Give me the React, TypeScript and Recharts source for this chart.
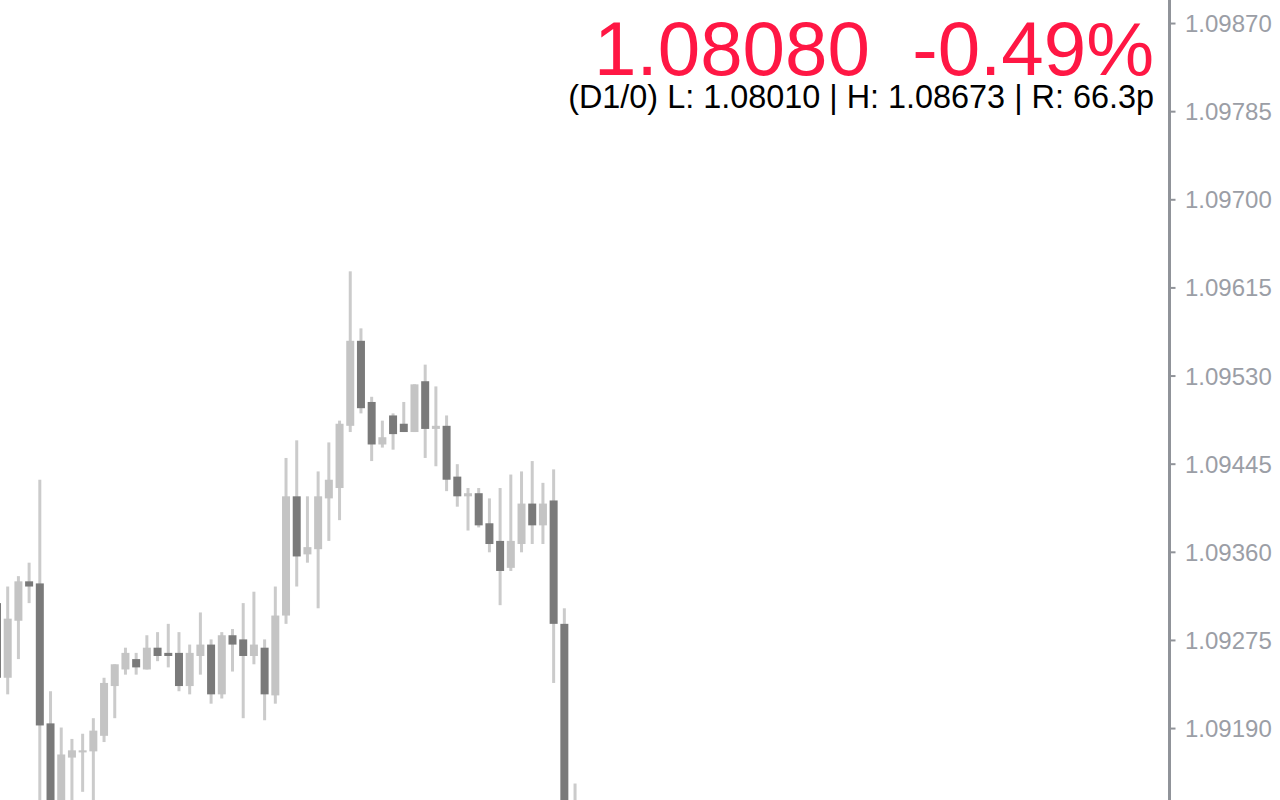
import React from 'react';
import { ComposedChart, Bar, XAxis, YAxis } from 'recharts';

// daily EURUSD candles, oldest first (first one is cut by the left edge)
const opens = [
  1.09311, 1.09239, 1.09294, 1.09332, 1.0933, 1.09195, 1.0911, 1.09162, 1.09167, 1.09168,
  1.09183, 1.09231, 1.09247, 1.09257, 1.09247, 1.09268, 1.09263, 1.09263, 1.09231, 1.0926,
  1.09271, 1.09223, 1.0928, 1.09276, 1.0926, 1.09268, 1.09222, 1.09299, 1.09414, 1.09358,
  1.09363, 1.09412, 1.09422, 1.09482, 1.09564, 1.09505, 1.09464, 1.09492, 1.09484, 1.09476,
  1.09525, 1.09479, 1.09482, 1.09433, 1.09414, 1.09417, 1.09388, 1.09371, 1.09345, 1.09368,
  1.09407, 1.09386, 1.0941, 1.09291, 1.0888, 1.08612,
];
const highs = [
  1.09324, 1.09327, 1.09337, 1.0935, 1.0943, 1.09226, 1.09191, 1.0918, 1.09185, 1.092,
  1.09239, 1.09252, 1.09268, 1.09263, 1.0928, 1.09283, 1.09291, 1.09283, 1.09271, 1.09302,
  1.09276, 1.09283, 1.09286, 1.09311, 1.09322, 1.09276, 1.09327, 1.09451, 1.09468, 1.09414,
  1.09438, 1.09466, 1.09487, 1.09631, 1.09576, 1.0951, 1.09487, 1.09494, 1.09505, 1.09522,
  1.09541, 1.0952, 1.09492, 1.09445, 1.09422, 1.09422, 1.09412, 1.09422, 1.09435, 1.09438,
  1.09448, 1.09427, 1.0944, 1.09306, 1.09137, 1.08673,
];
const lows = [
  1.09227, 1.09223, 1.09257, 1.09311, 1.091, 1.09095, 1.091, 1.0911, 1.09129, 1.09115,
  1.09177, 1.092, 1.09242, 1.09242, 1.09247, 1.09255, 1.09249, 1.09226, 1.09223, 1.09242,
  1.09214, 1.09219, 1.09245, 1.092, 1.09252, 1.09198, 1.09214, 1.09291, 1.09327, 1.0935,
  1.09306, 1.09371, 1.09391, 1.09476, 1.09494, 1.09448, 1.09461, 1.09459, 1.09476, 1.09476,
  1.09451, 1.09443, 1.09419, 1.09404, 1.09381, 1.09384, 1.0936, 1.09309, 1.09342, 1.0936,
  1.09368, 1.09368, 1.09234, 1.0885, 1.0856, 1.0801,
];
const closes = [
  1.09239, 1.09296, 1.09332, 1.09327, 1.09193, 1.09108, 1.09165, 1.09169, 1.09169, 1.09188,
  1.09234, 1.09252, 1.09263, 1.09249, 1.09268, 1.0926, 1.0926, 1.09231, 1.09263, 1.09271,
  1.09223, 1.0928, 1.09271, 1.0926, 1.09271, 1.09223, 1.09299, 1.09414, 1.09356, 1.09365,
  1.09414, 1.0943, 1.09484, 1.09564, 1.09499, 1.09464, 1.09471, 1.09474, 1.09476, 1.09522,
  1.09479, 1.09482, 1.0943, 1.09414, 1.09417, 1.09386, 1.09368, 1.09342, 1.09371, 1.09407,
  1.09386, 1.09407, 1.09291, 1.0888, 1.08612, 1.0808,
];
const priceTicks = [1.0919, 1.09275, 1.0936, 1.09445, 1.0953, 1.09615, 1.097, 1.09785, 1.0987];

const SLOTS = 110; // bar slots across the window, right side is empty space
const data = Array.from({ length: SLOTS }, (_, i) =>
  i < opens.length ? { i, o: opens[i], h: highs[i], l: lows[i], c: closes[i] } : { i }
);

const wickColor = '#cbcbcb';
const bullColor = '#c4c4c4';
const bearColor = '#7a7a7a';
const axisColor = '#909399';
const font = '"Liberation Sans", Arial, sans-serif';

const Candle = (props: any) => {
  const { x, y, width, height, payload } = props;
  if (!payload || payload.h == null) return null;
  const { o, h, l, c } = payload;
  const span = h - l || 1;
  const toY = (v: number) => y + ((h - v) / span) * height;
  const cx = x + width / 2;
  const top = toY(Math.max(o, c));
  const bodyH = Math.max(toY(Math.min(o, c)) - top, 2);
  return (
    <g>
      <rect x={cx - 1.5} y={y} width={3} height={height} fill={wickColor} />
      <rect x={x} y={top} width={width} height={bodyH} fill={c >= o ? bullColor : bearColor} />
    </g>
  );
};

export default function App() {
  return (
    <div style={{ position: 'fixed', left: 0, top: 0, width: 1280, height: 800, overflow: 'hidden', background: '#fff' }}>
      <div style={{ position: 'absolute', left: -8, top: 0 }}>
        <ComposedChart
          width={1290}
          height={800}
          data={data}
          margin={{ top: 0, right: 0, bottom: 0, left: 0 }}
          barCategoryGap={0}
        >
          <XAxis dataKey="i" hide />
          <YAxis
            orientation="right"
            type="number"
            domain={[1.091211, 1.098927]}
            allowDataOverflow
            ticks={priceTicks}
            interval={0}
            width={112.5}
            axisLine={{ stroke: axisColor, strokeWidth: 3 }}
            tickLine={{ stroke: axisColor, strokeWidth: 2 }}
            tickSize={6}
            tickMargin={9.5}
            tick={{ fill: '#9b9ea6', fontSize: 24, fontFamily: font }}
            tickFormatter={(v: number) => v.toFixed(5)}
          />
          <Bar
            dataKey={(d: any) => (d.h == null ? null : [d.l, d.h])}
            barSize={8}
            shape={<Candle />}
            isAnimationActive={false}
          />
        </ComposedChart>
      </div>
      <svg width={1280} height={800} style={{ position: 'absolute', left: 0, top: 0, pointerEvents: 'none' }}>
        <text x={1154} y={75} textAnchor="end" fill="#ff1744" fontSize={76.3} fontFamily={font} style={{ whiteSpace: 'pre' }}>
          {'1.08080  -0.49%'}
        </text>
        <text x={1154} y={108} textAnchor="end" fill="#000" fontSize={32.4} fontFamily={font} style={{ whiteSpace: 'pre' }}>
          {'(D1/0) L: 1.08010 | H: 1.08673 | R: 66.3p'}
        </text>
      </svg>
    </div>
  );
}
